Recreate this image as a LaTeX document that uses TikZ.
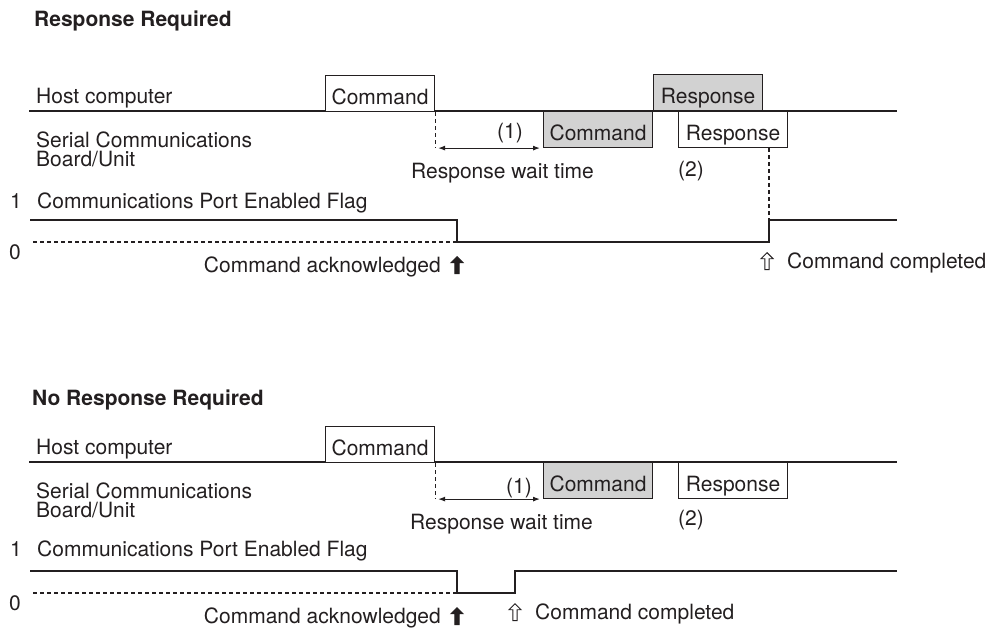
\documentclass[tikz,border=0pt]{standalone}
\usepackage{fontspec}
\setmainfont{TeX Gyre Heros}
\usetikzlibrary{positioning,arrows.meta,shapes.arrows}
\definecolor{ink}{HTML}{231F20}
\definecolor{stipple}{HTML}{D2D2D2}
\tikzset{
  td txt/.style={inner sep=0pt, text=ink, font=\fontsize{21}{19}\selectfont},
  td head/.style={td txt, font=\fontsize{21}{19}\selectfont\bfseries},
  td box/.style={td txt, draw=ink, line width=1.1pt, fill=white, minimum width=109pt, minimum height=36pt,
                 text height=22pt, text depth=0pt},
  td shade/.style={td box, fill=stipple},
  td line/.style={ink, line width=1.1pt},
  td dash/.style={td line, dash pattern=on 4pt off 3pt},
  td arr/.style={td line, {Latex[length=7pt,width=5pt]}-{Latex[length=7pt,width=5pt]}, shorten <=3pt, shorten >=3pt},
  td up/.style={single arrow, rotate=90, draw=ink, fill=ink, line width=0.9pt, inner sep=1.7pt,
                single arrow head extend=4pt, minimum height=17pt, anchor=tip},
  td up open/.style={td up, fill=white},
}
\begin{document}
\begin{tikzpicture}[x=1pt, y=-1pt]
  \useasboundingbox (0,0) rectangle (989,629);
  % response required
  \node[td head, anchor=base west] (titleA) at (34,27) {Response Required};
  \draw[td line] (29,111) -- (897,111);
  \node[td txt, anchor=base west] (hostA) at (36,103) {Host computer};
  \node[td txt, anchor=north west, align=left] (boardA) at (36,132) {Serial Communications\\Board/Unit};
  \node[td box, anchor=north west] (cmdHostA) at (325,75) {Command};
  \node[td shade, anchor=north west] (cmdBoardA) at (543,111) {Command};
  \node[td shade, above right=0pt of cmdBoardA.north east] (respHostA) {Response};
  \node[td box, anchor=north west] (respBoardA) at (678,111) {Response};
  \draw[td dash] (cmdHostA.south east) -- (cmdHostA.south east |- cmdBoardA.south);
  \draw[td arr] (cmdHostA.south east |- cmdBoardA.south) -- (cmdBoardA.south west);
  \node[td txt, anchor=base west] (waitA) at (497,138) {(1)};
  \node[td txt, anchor=base west] (waitTxtA) at (411,178) {Response wait time};
  \node[td txt, anchor=base west] (respNoA) at (678,176) {(2)};
  % port enabled flag
  \node[td txt, anchor=base west] (oneA) at (10,208) {1};
  \node[td txt, anchor=base west] (zeroA) at (9,259) {0};
  \node[td txt, anchor=base west] (flagA) at (37,208) {Communications Port Enabled Flag};
  \coordinate (ackA) at (457,242);
  \coordinate (doneA) at (769,242);
  \draw[td line] (30,220) -| (ackA) -- (doneA) |- (897,220);
  \draw[td dash] (33,242) -- (ackA);
  \draw[td dash] (respBoardA.south west -| doneA) -- ([yshift=22pt]doneA);
  \node[td up] (ackMarkA) at ([yshift=-14pt]ackA) {};
  \node[td up open] (doneMarkA) at ([xshift=-2pt, yshift=-10pt]doneA) {};
  \node[td txt, anchor=base east] (ackTxtA) at (441,272) {Command acknowledged};
  \node[td txt, anchor=base west] (doneTxtA) at (787,268) {Command completed};

  % no response required
  \node[td head, anchor=base west] (titleB) at (32,405) {No Response Required};
  \begin{scope}[yshift=-351pt]
    \draw[td line] (29,111) -- (897,111);
    \node[td txt, anchor=base west] (hostB) at (36,103) {Host computer};
    \node[td txt, anchor=north west, align=left] (boardB) at (36,132) {Serial Communications\\Board/Unit};
    \node[td box, anchor=north west] (cmdHostB) at (325,75) {Command};
    \node[td shade, anchor=north west] (cmdBoardB) at (543,111) {Command};
    \node[td box, anchor=north west] (respBoardB) at (678,111) {Response};
    \draw[td dash] (cmdHostB.south east) -- (cmdHostB.south east |- cmdBoardB.south);
    \draw[td arr] (cmdHostB.south east |- cmdBoardB.south) -- (cmdBoardB.south west);
    \node[td txt, anchor=base west] (waitB) at (506,142) {(1)};
    \node[td txt, anchor=base west] (waitTxtB) at (410,178) {Response wait time};
    \node[td txt, anchor=base west] (respNoB) at (678,174) {(2)};
    % port enabled flag
    \node[td txt, anchor=base west] (oneB) at (10,205) {1};
    \node[td txt, anchor=base west] (zeroB) at (9,259) {0};
    \node[td txt, anchor=base west] (flagB) at (37,205) {Communications Port Enabled Flag};
    \coordinate (ackB) at (457,242);
    \coordinate (doneB) at (515,242);
    \draw[td line] (30,220) -| (ackB) -- (doneB) |- (897,220);
    \draw[td dash] (33,242) -- (ackB);
    \node[td up] (ackMarkB) at ([yshift=-14pt]ackB) {};
    \node[td up open] (doneMarkB) at ([yshift=-10pt]doneB) {};
    \node[td txt, anchor=base east] (ackTxtB) at (441,272) {Command acknowledged};
    \node[td txt, anchor=base west] (doneTxtB) at (535,268) {Command completed};
  \end{scope}
\end{tikzpicture}
\end{document}
